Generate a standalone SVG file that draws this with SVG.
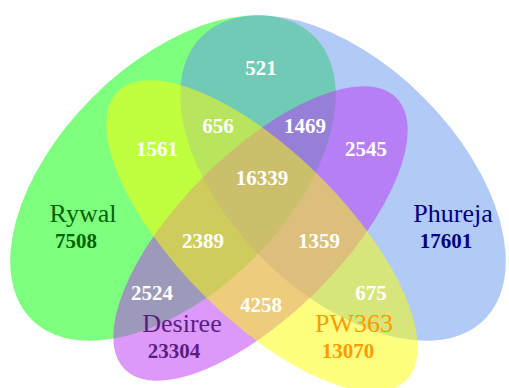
<svg xmlns="http://www.w3.org/2000/svg" width="509" height="388" viewBox="0 0 509 388">
<style>
.s{fill-opacity:0.5;stroke:none}
text{font-family:'Liberation Serif','Times New Roman','DejaVu Serif',serif;text-anchor:middle}
.n{font-size:21px;font-weight:bold;fill:#ffffff}
.l{font-size:26px;font-weight:normal}
.c{font-size:21px;font-weight:bold}
</style>
<rect width="509" height="388" fill="#ffffff"/>
<g id="rywal">
<ellipse class="s" cx="173" cy="178" rx="200" ry="114" transform="rotate(-45 173 178)" fill="#00ff00"/>
</g>
<g id="phureja">
<ellipse class="s" cx="343" cy="178" rx="200" ry="114" transform="rotate(45 343 178)" fill="#6495ed"/>
</g>
<g id="desiree">
<ellipse class="s" cx="260.5" cy="233.5" rx="192" ry="80.5" transform="rotate(-45 260.5 233.5)" fill="#bb33f5"/>
</g>
<g id="pw363">
<ellipse class="s" cx="262" cy="236" rx="204" ry="83" transform="rotate(45 262 236)" fill="#ffff00"/>
</g>
<g id="connectors"></g>
<g id="labels" font-family="Liberation Serif, serif">
<text class="n" x="261" y="75">521</text>
<text class="n" x="218" y="133">656</text>
<text class="n" x="305" y="133">1469</text>
<text class="n" x="157" y="156">1561</text>
<text class="n" x="366" y="156">2545</text>
<text class="n" x="262" y="185">16339</text>
<text class="n" x="203" y="248">2389</text>
<text class="n" x="319" y="248">1359</text>
<text class="n" x="152" y="300">2524</text>
<text class="n" x="371" y="300">675</text>
<text class="n" x="261" y="312">4258</text>
<text class="l" x="83" y="222" fill="#006400">Rywal</text>
<text class="c" x="76" y="248" fill="#006400">7508</text>
<text class="l" x="453" y="222" fill="#000080">Phureja</text>
<text class="c" x="446" y="248" fill="#000080">17601</text>
<text class="l" x="182" y="332" fill="#5a1e82">Desiree</text>
<text class="c" x="174" y="358" fill="#5a1e82">23304</text>
<text class="l" x="354" y="332" fill="#ff9a00">PW363</text>
<text class="c" x="348" y="358" fill="#ff9a00">13070</text>
</g>
</svg>
